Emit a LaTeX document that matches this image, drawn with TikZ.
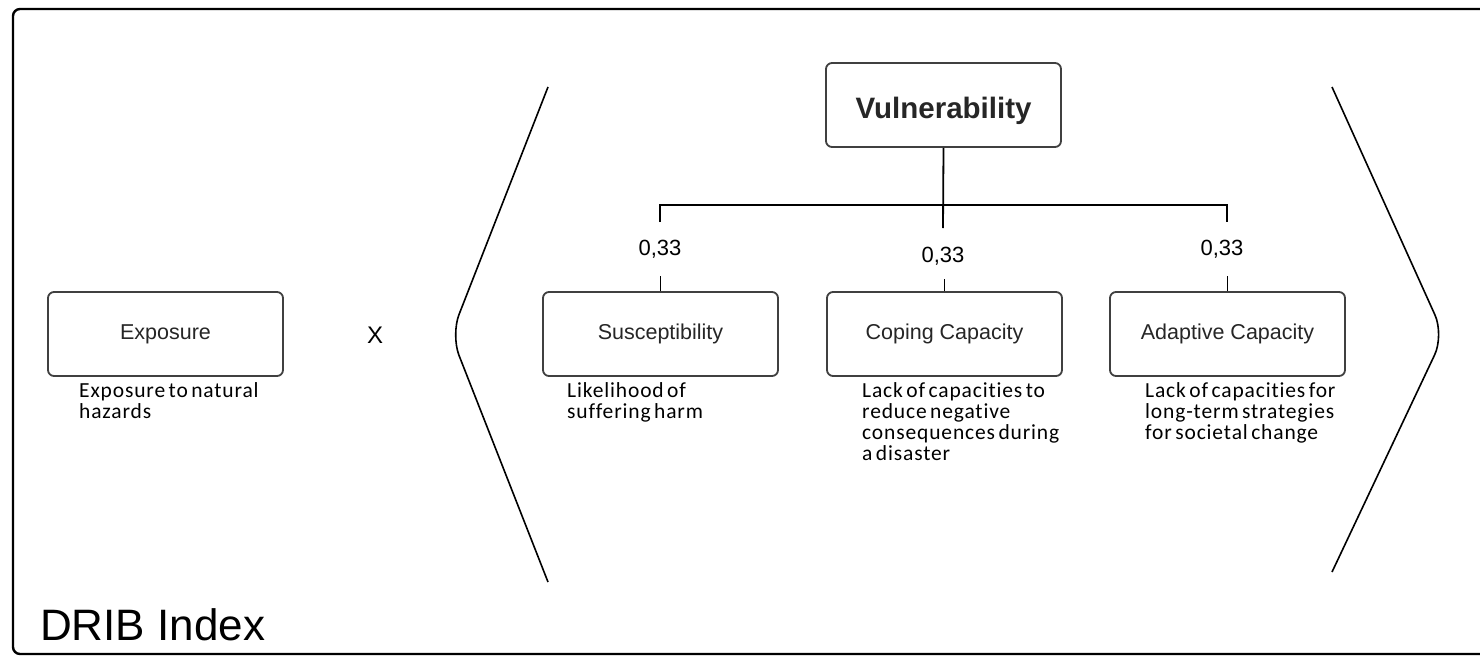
\documentclass[tikz,border=0pt]{standalone}
\usepackage{fontspec}
\setmainfont{Liberation Sans}
\newfontfamily\descfont[LetterSpace=4, WordSpace=0.6, Ligatures={NoCommon}]{Carlito}
\begin{document}
\begin{tikzpicture}[x=1pt,y=-1pt,
  box/.style={draw=black!75, line width=1.8pt, rounded corners=6pt, minimum width=235pt, minimum height=84pt, inner sep=0pt, fill=white, text=black!85, font=\fontsize{21.5}{24}\selectfont},
  wlabel/.style={font=\fontsize{22}{24}\selectfont, inner sep=0pt},
  desc/.style={anchor=north west, align=left, inner sep=0pt, font=\descfont\fontsize{21.5}{21}\selectfont},
  conn/.style={line width=1.8pt, black},
  bracket/.style={line width=1.6pt, rounded corners=22pt}]
\clip (0,0) rectangle (1480,656);
\fill[white] (0,0) rectangle (1480,656);
\draw[line width=2.4pt, rounded corners=7pt] (1500,9) -- (13,9) -- (13,654) -- (1500,654);

\node[box, font=\bfseries\fontsize{29.5}{32}\selectfont, text height=26pt, text depth=0pt] (V) at (943.5,105) {Vulnerability};
\node[box] (E) at (165.5,334) {Exposure};
\node[box] (S) at (660.5,334) {Susceptibility};
\node[box] (C) at (944.5,334) {Coping Capacity};
\node[box] (A) at (1227.5,334) {Adaptive Capacity};

\node[font=\fontsize{24}{26}\selectfont, inner sep=0pt] (X) at (375,335) {X};

\node[wlabel] (w1) at (660,249) {0,33};
\node[wlabel] (w2) at (943,256) {0,33};
\node[wlabel] (w3) at (1222,249) {0,33};

\coordinate (mid) at (943,228);
\coordinate (hl) at (660,205);
\coordinate (hr) at (1227,205);
\coordinate (bl) at (660,222);
\coordinate (br) at (1227,222);
\draw[conn] (V.south) -- (mid);
\draw[conn] (bl) -- (hl) -- (hr) -- (br);
\draw[conn] (S.north) -- ++(0,-15);
\draw[conn] (C.north) -- ++(0,-12);
\draw[conn] (A.north) -- ++(0,-15);

\coordinate (lb1) at (548,87);
\coordinate (lb2) at (451,335);
\coordinate (lb3) at (548,582);
\coordinate (rb1) at (1332,87);
\coordinate (rb2) at (1444,335);
\coordinate (rb3) at (1332,572);
\draw[bracket] (lb1) -- (lb2) -- (lb3);
\draw[bracket] (rb1) -- (rb2) -- (rb3);

\node[desc] (dE) at (79,382) {Exposure to natural\\hazards};
\node[desc] (dS) at (567,382) {Likelihood of\\suffering harm};
\node[desc] (dC) at (862,382) {Lack of capacities to\\reduce negative\\consequences during\\a disaster};
\node[desc] (dA) at (1145,382) {Lack of capacities for\\long-term strategies\\for societal change};

\node[anchor=base west, inner sep=0pt, font=\fontsize{44}{48}\selectfont] (T) at (40,640) {DRIB Index};
\end{tikzpicture}
\end{document}
